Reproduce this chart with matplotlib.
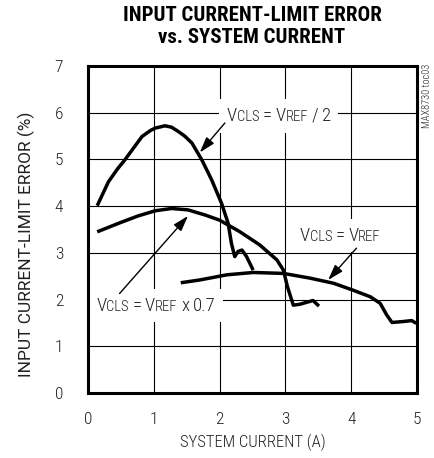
import matplotlib
matplotlib.use('Agg')
import matplotlib.pyplot as plt
from matplotlib.offsetbox import TextArea, HPacker, AnnotationBbox

# ---- data ----
# V_CLS = V_REF / 2
x_half = [0.14, 0.31, 0.45, 0.56, 0.82, 0.95, 1.02, 1.17, 1.27, 1.37, 1.47, 1.58,
          1.73, 1.88, 2.03, 2.13, 2.18, 2.23, 2.28, 2.34, 2.41, 2.51]
y_half = [4.01, 4.52, 4.80, 4.99, 5.49, 5.62, 5.67, 5.72, 5.69, 5.60, 5.50, 5.35,
          4.99, 4.56, 4.06, 3.63, 3.20, 2.92, 3.03, 3.06, 2.92, 2.63]
# V_CLS = V_REF x 0.7
x_07 = [0.14, 0.46, 0.76, 1.02, 1.27, 1.52, 1.78, 2.00, 2.31, 2.61, 2.87, 2.97,
        3.03, 3.12, 3.22, 3.42, 3.51]
y_07 = [3.45, 3.63, 3.79, 3.90, 3.95, 3.92, 3.81, 3.70, 3.45, 3.17, 2.85, 2.63,
        2.28, 1.88, 1.90, 1.98, 1.86]
# V_CLS = V_REF
x_ref = [1.41, 1.70, 1.85, 2.11, 2.51, 2.97, 3.37, 3.73, 4.03, 4.29, 4.44, 4.54,
         4.62, 4.79, 4.92, 4.99]
y_ref = [2.36, 2.42, 2.46, 2.53, 2.58, 2.56, 2.46, 2.35, 2.20, 2.06, 1.92, 1.67,
         1.51, 1.53, 1.55, 1.49]

x_ticks = [0, 1, 2, 3, 4, 5]
y_ticks = [0, 1, 2, 3, 4, 5, 6, 7]

title = "INPUT CURRENT-LIMIT ERROR\nvs. SYSTEM CURRENT"
x_label = "SYSTEM CURRENT (A)"
y_label = "INPUT CURRENT-LIMIT ERROR (%)"
side_note = "MAX8730 toc03"

FONT = ['Roboto Condensed', 'DejaVu Sans']
FONT_Y = ['Roboto', 'DejaVu Sans']
TXT = '#222222'

fig = plt.figure(figsize=(4.34, 4.58), dpi=100)
ax = fig.add_axes([88 / 434, 65 / 458, 329 / 434, 327 / 458])
ax.set_xlim(0, 5)
ax.set_ylim(0, 7)
ax.set_xticks(x_ticks)
ax.set_yticks(y_ticks)
ax.tick_params(length=0, labelsize=12.5, colors=TXT)
ax.tick_params(axis='y', pad=18)
ax.tick_params(axis='x', pad=14)
for lab in ax.get_xticklabels() + ax.get_yticklabels():
    lab.set_family(FONT)
    lab.set_fontweight('light')
ax.grid(True, color='black', lw=0.8)
ax.set_axisbelow(True)
for s in ax.spines.values():
    s.set_linewidth(2.2)

for xs, ys in [(x_half, y_half), (x_07, y_07), (x_ref, y_ref)]:
    ax.plot(xs, ys, color='black', lw=2.5, zorder=3,
            solid_joinstyle='round', solid_capstyle='butt')


def vlabel(tail, xy):
    big = dict(fontsize=13.5, family=FONT, color=TXT, fontweight='light')
    small = dict(fontsize=10.5, family=FONT, color=TXT, fontweight='light')

    def pair(a, b):
        return HPacker(children=[TextArea(a, textprops=big), TextArea(b, textprops=small)],
                       sep=0, pad=0, align='baseline')
    children = [pair('V', 'CLS'), TextArea('=', textprops=big), pair('V', 'REF')]
    children += [TextArea(t, textprops=big) for t in tail]
    pk = HPacker(children=children, sep=2.5, pad=0, align='baseline')
    ab = AnnotationBbox(pk, xy, xycoords='data', frameon=True, pad=0.55,
                        bboxprops=dict(facecolor='white', edgecolor='none'), zorder=2.5)
    ax.add_artist(ab)


def arrow(start, tip):
    ax.annotate('', xy=tip, xytext=start, xycoords='data', textcoords='data',
                arrowprops=dict(arrowstyle='-|>,head_length=0.95,head_width=0.3',
                                color='black', lw=1, shrinkA=0, shrinkB=0), zorder=4)


vlabel(['/', '2'], (2.90, 5.93))
arrow((2.08, 5.78), (1.70, 5.15))
vlabel([], (3.83, 3.37))
arrow((4.08, 3.10), (3.65, 2.42))
vlabel(['x', '0.7'], (1.03, 1.87))
arrow((0.48, 2.13), (1.52, 3.79))

fig.text(252 / 434, 1 - 6 / 458, title, ha='center', va='top', fontsize=15,
         fontweight='bold', family=FONT, color='black', linespacing=1.2)
fig.text(253 / 434, 1 - 442 / 458, x_label, ha='center', va='center',
         fontsize=12, family=FONT, color=TXT, fontweight='light')
fig.text(26 / 434, 1 - 244 / 458, y_label, ha='center', va='center',
         rotation=90, fontsize=12.5, family=FONT_Y, color=TXT, fontweight='normal')
fig.text(427 / 434, 1 - 64 / 458, side_note, ha='center', va='top',
         rotation=90, fontsize=7.5, family=FONT, color=TXT, fontweight='light')

fig.savefig('out.png', dpi=100)
